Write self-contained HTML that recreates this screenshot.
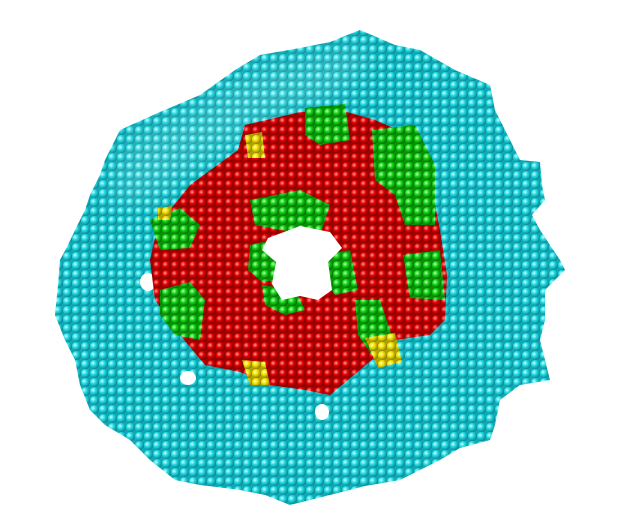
<!DOCTYPE html>
<html><head><meta charset="utf-8"><style>
html,body{margin:0;padding:0;background:#fff;width:640px;height:516px;overflow:hidden}
</style></head><body>
<svg width="640" height="516" viewBox="0 0 640 516">
<defs>
<radialGradient id="gc" cx="35%" cy="35%" r="65%"><stop offset="0" stop-color="#c8ffff"/><stop offset="0.45" stop-color="#22d8e0"/><stop offset="1" stop-color="#0a8a96"/></radialGradient>
<radialGradient id="gr" cx="35%" cy="35%" r="65%"><stop offset="0" stop-color="#ff9a9a"/><stop offset="0.45" stop-color="#e00000"/><stop offset="1" stop-color="#800000"/></radialGradient>
<radialGradient id="gg" cx="35%" cy="35%" r="65%"><stop offset="0" stop-color="#b8ffb8"/><stop offset="0.45" stop-color="#10d010"/><stop offset="1" stop-color="#067006"/></radialGradient>
<radialGradient id="gy" cx="35%" cy="35%" r="65%"><stop offset="0" stop-color="#ffffb0"/><stop offset="0.45" stop-color="#f0e000"/><stop offset="1" stop-color="#908000"/></radialGradient>
<pattern id="pc" width="9" height="9" patternUnits="userSpaceOnUse"><rect width="9" height="9" fill="#0fa8b4"/><circle cx="4.5" cy="4.5" r="4.6" fill="url(#gc)"/></pattern>
<pattern id="pr" width="9" height="9" patternUnits="userSpaceOnUse"><rect width="9" height="9" fill="#a00000"/><circle cx="4.5" cy="4.5" r="4.6" fill="url(#gr)"/></pattern>
<pattern id="pg" width="9" height="9" patternUnits="userSpaceOnUse"><rect width="9" height="9" fill="#089008"/><circle cx="4.5" cy="4.5" r="4.6" fill="url(#gg)"/></pattern>
<pattern id="py" width="9" height="9" patternUnits="userSpaceOnUse"><rect width="9" height="9" fill="#b0a000"/><circle cx="4.5" cy="4.5" r="4.6" fill="url(#gy)"/></pattern>
<filter id="blur"><feGaussianBlur stdDeviation="12"/></filter>
</defs>
<polygon fill="url(#pc)" points="120,130 160,112 200,95 235,70 260,55 300,48 330,42 360,30 395,45 420,50 455,70 490,85 495,110 505,130 520,160 540,162 542,185 545,200 532,215 540,230 560,260 565,270 545,290 545,320 540,340 550,380 520,385 500,400 495,425 490,440 460,448 440,460 420,470 400,480 365,486 330,495 290,505 265,495 240,490 200,485 175,480 150,460 130,440 105,425 90,410 80,385 75,360 65,340 55,315 58,285 60,260 68,245 75,230 85,210 90,195 100,175 105,160"/>
<polygon fill="#ffffff" fill-opacity="0.14" filter="url(#blur)" points="125,140 200,105 260,68 330,52 355,45 370,65 330,100 260,125 200,165 150,200 110,205"/>
<g fill="#fff">
<ellipse cx="148" cy="282" rx="8" ry="9"/><ellipse cx="188" cy="378" rx="8" ry="7"/><ellipse cx="322" cy="412" rx="7" ry="8"/><ellipse cx="300" cy="335" rx="6" ry="10"/>
</g>
<polygon fill="url(#pr)" points="158,225 190,185 238,150 245,125 275,118 300,112 340,110 375,120 410,135 430,180 440,230 447,275 445,320 430,335 395,340 360,370 330,395 305,390 270,385 240,372 205,365 180,335 155,300 150,260"/>
<g fill="url(#pg)">
<polygon points="305,108 345,104 350,140 320,145 305,135"/>
<polygon points="372,130 415,125 435,165 435,225 405,225 395,195 375,180"/>
<polygon points="150,220 180,208 200,225 190,248 160,250"/>
<polygon points="160,290 190,282 205,300 200,340 175,335 160,315"/>
<polygon points="250,245 272,240 278,280 262,282 248,270"/>
<polygon points="322,255 350,250 358,290 335,295 325,280"/>
<polygon points="403,255 440,250 445,300 410,298"/>
<polygon points="355,300 380,300 395,345 372,355 358,335"/>
<polygon points="250,200 300,190 330,205 320,235 280,230 255,225"/>
<polygon points="262,285 295,290 305,310 285,315 265,305"/>
</g>
<g fill="url(#py)">
<polygon points="365,338 395,333 402,362 378,368"/>
<polygon points="242,360 265,362 270,385 250,385"/>
<polygon points="245,135 262,132 265,158 248,158"/>
<polygon points="158,208 172,206 170,220 158,220"/>
</g>
<polygon fill="#fff" points="268,238 300,226 330,232 342,248 328,262 332,290 318,300 300,296 282,300 272,284 276,262 262,250"/>
</svg>
</body></html>
